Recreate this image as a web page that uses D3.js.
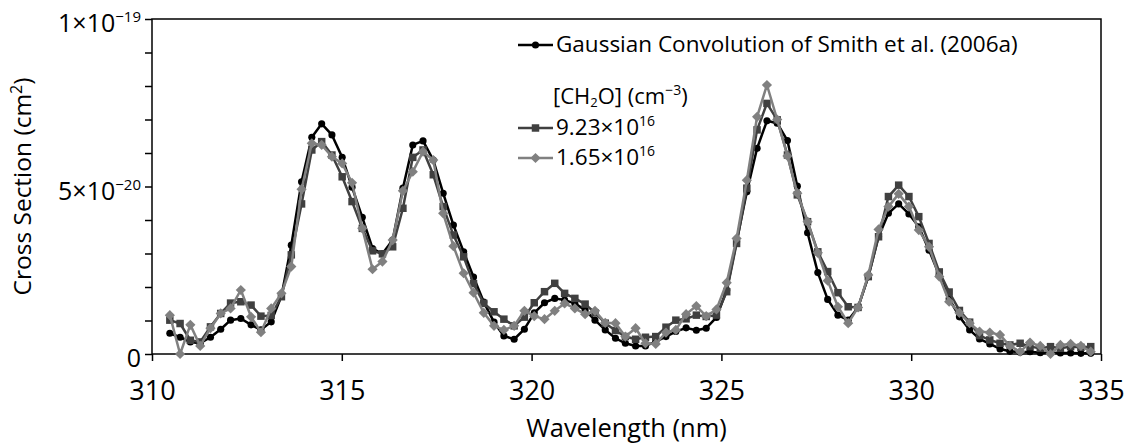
<!DOCTYPE html>
<html>
<head>
<meta charset="utf-8">
<script src="https://cdn.jsdelivr.net/npm/d3@7"></script>
<style>
  body { margin: 0; background: #fff; }
  svg text { font-family: "Open Sans", "Noto Sans", sans-serif; fill: #000; }
</style>
</head>
<body>
<div class="container"></div>
<script>
// wavelength grid (nm) shared by all three series
const wavelengths = [
  310.47, 310.74, 311.01, 311.27, 311.54, 311.81, 312.07, 312.34, 312.61, 312.87,
  313.14, 313.41, 313.67, 313.94, 314.21, 314.47, 314.74, 315.01, 315.27, 315.54,
  315.81, 316.07, 316.34, 316.61, 316.87, 317.14, 317.41, 317.67, 317.94, 318.21,
  318.47, 318.74, 319.01, 319.27, 319.54, 319.81, 320.07, 320.34, 320.61, 320.87,
  321.14, 321.41, 321.67, 321.94, 322.21, 322.47, 322.74, 323.00, 323.27, 323.54,
  323.80, 324.07, 324.34, 324.60, 324.87, 325.14, 325.40, 325.67, 325.94, 326.20,
  326.47, 326.74, 327.00, 327.27, 327.54, 327.80, 328.07, 328.34, 328.60, 328.87,
  329.14, 329.40, 329.67, 329.94, 330.20, 330.47, 330.74, 331.00, 331.27, 331.54,
  331.80, 332.07, 332.34, 332.60, 332.87, 333.13, 333.40, 333.67, 333.93, 334.20,
  334.47, 334.73
];

// cross sections in units of 1e-20 cm^2
const smith = [
  0.62, 0.50, 0.36, 0.32, 0.50, 0.74, 1.01, 1.06, 0.87, 0.72,
  0.96, 1.73, 3.25, 5.14, 6.47, 6.87, 6.54, 5.87, 4.98, 4.08,
  3.15, 2.99, 3.40, 4.95, 6.24, 6.36, 5.79, 4.80, 3.85, 3.05,
  2.30, 1.55, 0.95, 0.54, 0.44, 0.74, 1.23, 1.53, 1.66, 1.61,
  1.51, 1.31, 1.01, 0.72, 0.47, 0.32, 0.24, 0.24, 0.37, 0.52,
  0.67, 0.78, 0.71, 0.77, 1.09, 1.91, 3.35, 4.84, 6.14, 6.96,
  6.89, 6.37, 5.01, 3.62, 2.43, 1.63, 1.16, 1.01, 1.39, 2.31,
  3.50, 4.20, 4.48, 4.18, 3.80, 3.10, 2.35, 1.65, 1.11, 0.72,
  0.45, 0.30, 0.15, 0.08, 0.05, 0.07, 0.04, 0.04, 0.03, 0.03,
  0.02, 0.02
];
const conc923 = [
  1.01, 0.91, 0.41, 0.36, 0.81, 1.21, 1.52, 1.56, 1.46, 1.13,
  1.15, 1.71, 2.96, 4.48, 6.09, 6.34, 5.94, 5.29, 4.55, 3.75,
  3.08, 2.99, 3.20, 4.35, 5.87, 6.09, 5.35, 4.40, 3.55, 2.90,
  2.10, 1.51, 1.26, 1.04, 0.84, 1.10, 1.53, 1.86, 2.11, 1.81,
  1.66, 1.49, 1.23, 0.92, 0.70, 0.52, 0.44, 0.50, 0.52, 0.80,
  1.01, 1.05, 1.16, 1.12, 1.16, 1.86, 3.30, 4.95, 6.69, 7.48,
  6.99, 5.94, 4.75, 3.95, 3.05, 2.46, 1.83, 1.41, 1.39, 2.31,
  3.50, 4.70, 5.04, 4.70, 4.10, 3.30, 2.45, 1.85, 1.30, 0.95,
  0.55, 0.42, 0.32, 0.27, 0.32, 0.22, 0.17, 0.22, 0.17, 0.22,
  0.20, 0.22
];
const conc165 = [
  1.16, 0.00, 0.87, 0.24, 0.77, 1.21, 1.36, 1.91, 1.11, 0.65,
  1.36, 1.81, 2.61, 4.92, 6.29, 6.24, 5.89, 5.69, 5.11, 3.75,
  2.53, 2.76, 3.40, 4.87, 5.44, 6.04, 5.79, 4.20, 3.22, 2.41,
  1.83, 1.23, 0.84, 0.72, 0.84, 1.29, 1.13, 1.04, 1.29, 1.51,
  1.36, 1.19, 1.29, 0.93, 0.92, 0.52, 0.77, 0.32, 0.30, 0.64,
  0.72, 1.19, 1.43, 1.13, 1.33, 2.13, 3.45, 5.19, 7.08, 8.03,
  7.00, 5.91, 4.80, 3.95, 3.02, 2.19, 1.41, 0.92, 1.39, 2.36,
  3.72, 4.40, 4.78, 4.40, 3.70, 3.20, 2.31, 1.56, 1.23, 0.92,
  0.67, 0.64, 0.57, 0.24, 0.07, 0.34, 0.24, 0.00, 0.27, 0.30,
  0.24, 0.07
];

const xTicks = [310, 315, 320, 325, 330, 335];
const yTicks = [0, 1, 2, 3, 4, 5, 6, 7, 8, 9, 10];
const yLabelValues = [0, 5, 10];
const yLabelMantissa = ["0", "5×10", "1×10"];
const yLabelExponent = ["", "−20", "−19"];

const w = 1125, h = 444;
const padL = 152, padR = 1101, padT = 19, padB = 354;

const svg = d3.select(".container").append("svg")
  .attr("width", w).attr("height", h);

const x = d3.scaleLinear().domain([310, 335]).range([padL, padR]);
const y = d3.scaleLinear().domain([0, 10]).range([padB, padT]);

// x axis
const xAxis = d3.axisBottom(x).tickValues(xTicks).tickSize(7).tickFormat(d3.format("d"));
const gx = svg.append("g").attr("transform", `translate(0,${padB})`).call(xAxis);
gx.select(".domain").remove();
gx.selectAll(".tick line").attr("stroke", "#000").attr("stroke-width", 1.5);
gx.selectAll(".tick text").attr("y", 46).attr("dy", 0).style("font-size", "27px");

// y axis (minor ticks every 1e-20)
const yAxis = d3.axisLeft(y).tickValues(yTicks).tickSize(7).tickFormat("");
const gy = svg.append("g").attr("transform", `translate(${padL},0)`).call(yAxis);
gy.select(".domain").remove();
gy.selectAll(".tick line").attr("stroke", "#000").attr("stroke-width", 1.5);

const yl = svg.append("g").selectAll("text")
  .data(yLabelValues).enter().append("text")
  .attr("x", padL - 11)
  .attr("y", d => y(d) + 13)
  .attr("text-anchor", "end")
  .style("font-size", "25px");
yl.append("tspan").text((d, i) => yLabelMantissa[i]);
yl.append("tspan").attr("dy", -10).style("font-size", "15px").text((d, i) => yLabelExponent[i]);

// plot frame
svg.append("rect")
  .attr("x", padL).attr("y", padT)
  .attr("width", padR - padL).attr("height", padB - padT)
  .attr("fill", "none").attr("stroke", "#000").attr("stroke-width", 1.5);

// axis titles
svg.append("text")
  .attr("x", (padL + padR) / 2).attr("y", 437)
  .attr("text-anchor", "middle").style("font-size", "25.5px")
  .text("Wavelength (nm)");

const yTitle = svg.append("text")
  .attr("transform", `translate(31,${(padT + padB) / 2}) rotate(-90)`)
  .attr("text-anchor", "middle").style("font-size", "24.5px");
yTitle.append("tspan").text("Cross Section (cm");
yTitle.append("tspan").attr("dy", -9).style("font-size", "16px").text("2");
yTitle.append("tspan").attr("dy", 9).text(")");

// series
const series = [
  { name: "smith", values: smith, color: "#000000", symbol: d3.symbolCircle, size: 40, rot: 0 },
  { name: "c923", values: conc923, color: "#404040", symbol: d3.symbolSquare, size: 56, rot: 0 },
  { name: "c165", values: conc165, color: "#808080", symbol: d3.symbolSquare, size: 52, rot: 45 }
];

const line = d3.line().x(d => x(d[0])).y(d => y(d[1]));

series.forEach(s => {
  const pts = wavelengths.map((wl, i) => [wl, s.values[i]]);
  const g = svg.append("g").attr("class", s.name);
  g.append("path").datum(pts)
    .attr("d", line)
    .attr("fill", "none")
    .attr("stroke", s.color)
    .attr("stroke-width", 2.5)
    .attr("stroke-linejoin", "round");
  g.selectAll("path.pt").data(pts).enter().append("path")
    .attr("class", "pt")
    .attr("d", d3.symbol().type(s.symbol).size(s.size))
    .attr("transform", d => `translate(${x(d[0])},${y(d[1])}) rotate(${s.rot})`)
    .attr("fill", s.color);
});

// legend
const legendRows = [
  { s: series[0], y: 45, label: ["Gaussian Convolution of Smith et al. (2006a)"] },
  { s: series[1], y: 128, label: ["9.23×10", "16"] },
  { s: series[2], y: 158, label: ["1.65×10", "16"] }
];
const lg = svg.append("g");
legendRows.forEach(r => {
  lg.append("line").attr("x1", 518).attr("x2", 553).attr("y1", r.y).attr("y2", r.y)
    .attr("stroke", r.s.color).attr("stroke-width", 2.5);
  lg.append("path")
    .attr("d", d3.symbol().type(r.s.symbol).size(r.s.size))
    .attr("transform", `translate(535.5,${r.y}) rotate(${r.s.rot})`)
    .attr("fill", r.s.color);
  const t = lg.append("text").attr("x", 556).attr("y", r.y + 7).style("font-size", "22.5px");
  t.append("tspan").text(r.label[0]);
  if (r.label[1]) t.append("tspan").attr("dy", -9).style("font-size", "14px").text(r.label[1]);
});

const hdr = lg.append("text").attr("x", 553).attr("y", 104).style("font-size", "22px");
hdr.append("tspan").text("[CH");
hdr.append("tspan").attr("dy", 3).style("font-size", "13px").text("2");
hdr.append("tspan").attr("dy", -3).text("O] (cm");
hdr.append("tspan").attr("dy", -9).style("font-size", "14px").text("−3");
hdr.append("tspan").attr("dy", 9).text(")");
</script>
</body>
</html>
